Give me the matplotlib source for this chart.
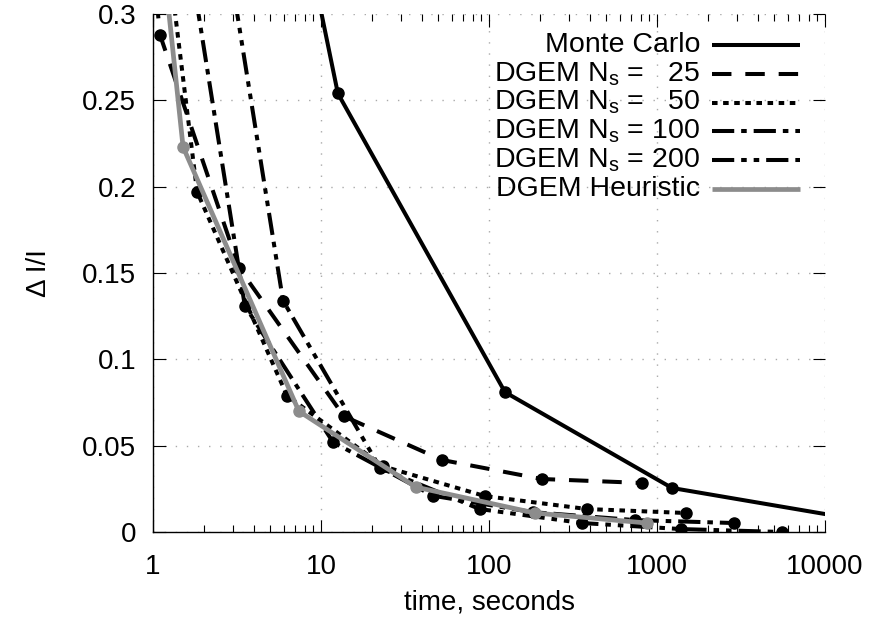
import numpy as np
import matplotlib
matplotlib.use('Agg')
import matplotlib.pyplot as plt
from matplotlib.ticker import FixedLocator, LogLocator, NullFormatter, FuncFormatter

plt.rcParams['font.family'] = ['Liberation Sans', 'DejaVu Sans']
plt.rcParams['mathtext.fontset'] = 'custom'
plt.rcParams['mathtext.rm'] = 'Liberation Sans'
plt.rcParams['lines.scale_dashes'] = False

# data (time in seconds, relative error)
mc_t = [1.25, 12.6, 124.5, 1228, 12500]
mc_e = [0.73, 0.254, 0.081, 0.0255, 0.0088]
ns25_t = [0.28, 1.10, 3.25, 13.7, 52.6, 206, 816]
ns25_e = [0.90, 0.288, 0.153, 0.067, 0.0417, 0.0307, 0.0284]
ns50_t = [0.46, 1.83, 6.27, 23.5, 94.5, 383, 1486]
ns50_e = [0.67, 0.197, 0.079, 0.038, 0.0208, 0.0133, 0.011]
ns100_t = [0.88, 3.52, 11.8, 46.4, 182, 740, 2870]
ns100_e = [0.50, 0.131, 0.052, 0.021, 0.0115, 0.0069, 0.0052]
ns200_t = [1.49, 5.94, 22.5, 88, 358, 1390, 5550]
ns200_e = [0.50, 0.134, 0.037, 0.0133, 0.0052, 0.0017, 0.0]
heur_t = [0.30, 1.51, 7.38, 36.7, 188, 870]
heur_e = [0.87, 0.223, 0.070, 0.026, 0.011, 0.0052]

labels = ['Monte Carlo',
          r'DGEM N$_\mathregular{s}$ =   25',
          r'DGEM N$_\mathregular{s}$ =   50',
          r'DGEM N$_\mathregular{s}$ = 100',
          r'DGEM N$_\mathregular{s}$ = 200',
          'DGEM Heuristic']
x_ticks = [1, 10, 100, 1000, 10000]
y_ticks = [0, 0.05, 0.1, 0.15, 0.2, 0.25, 0.3]

fig = plt.figure(figsize=(8.69, 6.34), dpi=100)
ax = fig.add_axes([153/869, 1-532/634, 672/869, 518/634])

lw = 2.9
styles = [
    dict(color='black', lw=lw, ls='-'),
    dict(color='black', lw=lw, dashes=(14, 10)),
    dict(color='black', lw=lw, dashes=(4, 4)),
    dict(color='black', lw=lw, dashes=(16, 5, 4, 5)),
    dict(color='black', lw=lw, dashes=(16, 5, 4, 5, 4, 5)),
    dict(color='#8c8c8c', lw=3.4, ls='-'),
]
series = [(mc_t, mc_e), (ns25_t, ns25_e), (ns50_t, ns50_e),
          (ns100_t, ns100_e), (ns200_t, ns200_e), (heur_t, heur_e)]

for (t, e), st in zip(series, styles):
    ax.plot(t, e, marker='o', ms=8, mfc=st['color'], mec=st['color'],
            solid_capstyle='butt', dash_capstyle='butt', **st)

ax.set_xscale('log')
ax.set_xlim(1, 10000)
ax.set_ylim(0, 0.3)
ax.xaxis.set_major_locator(FixedLocator(x_ticks))
ax.xaxis.set_minor_locator(LogLocator(base=10, subs=np.arange(2, 10)))
ax.xaxis.set_minor_formatter(NullFormatter())
ax.xaxis.set_major_formatter(FuncFormatter(lambda v, p: '%d' % v))
ax.yaxis.set_major_locator(FixedLocator(y_ticks))
ax.yaxis.set_major_formatter(FuncFormatter(lambda v, p: '%g' % v))

ax.spines['top'].set_visible(False)
ax.spines['right'].set_visible(False)
ax.spines['left'].set_linewidth(1.0)
ax.spines['bottom'].set_linewidth(1.0)
ax.tick_params(which='both', direction='in', top=True, right=True, width=0.8, labelsize=20)
ax.tick_params(which='major', length=9)
ax.tick_params(which='minor', length=5)
ax.tick_params(axis='x', which='major', pad=16)
ax.tick_params(axis='y', which='major', pad=12)
ax.grid(True, which='major', color='#aaaaaa', lw=1.0, ls=(0, (1, 7)))

ax.set_xlabel('time, seconds', fontsize=20, labelpad=7)
ax.set_ylabel('Δ I/I', fontsize=20, labelpad=22)

# gnuplot style key: text right-aligned, sample line after it
y0 = 0.940
dy = 0.0555
for i, (lab, st) in enumerate(zip(labels, styles)):
    y = y0 - i * dy
    ax.text(0.814, y, lab, transform=ax.transAxes, ha='right', va='center', fontsize=20.5)
    ax.plot([0.832, 0.963], [y, y], transform=ax.transAxes, clip_on=False,
            solid_capstyle='butt', dash_capstyle='butt', **st)

fig.savefig('out.png', dpi=100)
